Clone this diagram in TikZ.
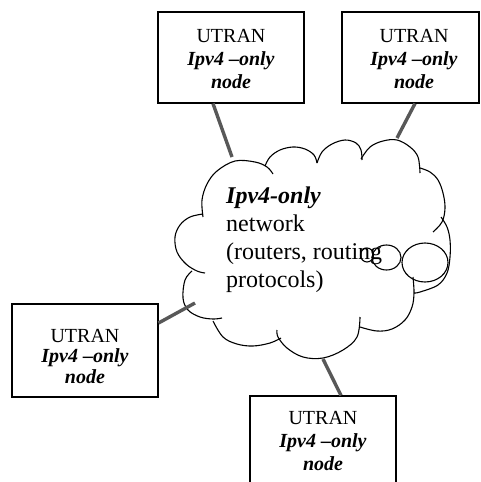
\documentclass[tikz,border=0pt]{standalone}
\usepackage{fontspec}
\setmainfont{Liberation Serif}
\definecolor{linkgray}{RGB}{88,88,88}
\begin{document}
\begin{tikzpicture}[x=1pt, y=-1pt,
  box/.style={draw, line width=1.1pt, inner sep=0pt, minimum width=146pt, minimum height=91pt},
  boxtext/.style={inner sep=0pt, align=center, font=\fontsize{20}{23}\selectfont},
  link/.style={draw=linkgray, line width=3.4pt},
  puff/.style={draw, line width=1.1pt},
  bubble/.style={draw, line width=1.1pt}]
\useasboundingbox (0,0) rectangle (480,482);
\clip (0,0) rectangle (480,482);

% UTRAN boxes
\node[box] (tl) at (231,57.5) {};
\node[box, minimum width=137pt] (tr) at (410.5,57.5) {};
\node[box, minimum height=93pt] (lb) at (85,350.5) {};
\node[box] (bb) at (323,441.5) {};

\node[boxtext] (tltext) at (231,58.5) {UTRAN\\\textbf{\textit{Ipv4 –only}}\\\textbf{\textit{node}}};
\node[boxtext] (trtext) at (414,58.5) {UTRAN\\\textbf{\textit{Ipv4 –only}}\\\textbf{\textit{node}}};
\node[boxtext, font=\fontsize{20}{20.5}\selectfont] (lbtext) at (85,356) {UTRAN\\\textbf{\textit{Ipv4 –only}}\\\textbf{\textit{node}}};
\node[boxtext] (bbtext) at (323,440.5) {UTRAN\\\textbf{\textit{Ipv4 –only}}\\\textbf{\textit{node}}};

% cloud outline, one puff at a time
\draw[puff] plot[smooth, tension=0.6] coordinates {(203,217) (202,200) (207,184) (217,171) (235,161) (255,162) (267,167) (273,174)};
\draw[puff] plot[smooth, tension=0.6] coordinates {(265,166) (270,157) (280,150) (293,147) (305,149) (314,155) (317,163)};
\draw[puff] plot[smooth, tension=0.6] coordinates {(317,163) (322,152) (332,144) (345,140) (356,143) (361,150) (362,160)};
\draw[puff] plot[smooth, tension=0.6] coordinates {(361,159) (370,147) (383,141) (397,140) (410,147) (418,157) (420,173)};
\draw[puff] plot[smooth, tension=0.6] coordinates {(420,168) (430,172) (438,180) (443,193) (445,208) (442,222) (433,232)};
\draw[puff] plot[smooth, tension=0.6] coordinates {(441,217) (447,227) (450,240) (450,257) (447,273) (438,285) (420,292) (414,293)};
\draw[puff] plot[smooth, tension=0.6] coordinates {(413,277) (414,293) (412,307) (405,320) (392,329) (377,331) (360,327)};
\draw[puff] plot[smooth, tension=0.6] coordinates {(360,317) (357,337) (343,350) (323,358) (303,357) (287,348) (278,337) (277,330)};
\draw[puff] plot[smooth, tension=0.6] coordinates {(281,338) (270,343) (253,346) (237,344) (223,337) (213,321)};
\draw[puff] plot[smooth, tension=0.6] coordinates {(192,271) (185,280) (183,298) (188,310) (200,317) (213,319) (222,318)};
\draw[puff] plot[smooth, tension=0.6] coordinates {(203,214) (190,217) (180,225) (175,237) (177,252) (186,264) (197,271) (205,273)};

% callout bubbles
\draw[bubble] (425,262.5) ellipse [x radius=23pt, y radius=19.5pt];
\draw[bubble] (386.5,257.5) ellipse [x radius=14.5pt, y radius=12.5pt];
\draw[bubble] (367,255) ellipse [x radius=6.5pt, y radius=7pt];

% cloud text
\node[inner sep=0pt, anchor=north west, align=left, font=\fontsize{24}{28}\selectfont] (net) at (226,186.5)
  {\textbf{\textit{Ipv4-only}}\\network\\(routers, routing\\protocols)};

% points where the links meet the cloud
\coordinate (ctop1) at (232,157);
\coordinate (ctop2) at (397,138);
\coordinate (cleft) at (195,303);
\coordinate (cbot) at (323,359);

% links
\draw[link] ([xshift=-18pt]tl.south) -- (ctop1);
\draw[link] ([xshift=4.5pt]tr.south) -- (ctop2);
\draw[link] ([yshift=27.5pt]lb.east) -- (cleft);
\draw[link] ([xshift=18pt]bb.north) -- (cbot);
\end{tikzpicture}
\end{document}
